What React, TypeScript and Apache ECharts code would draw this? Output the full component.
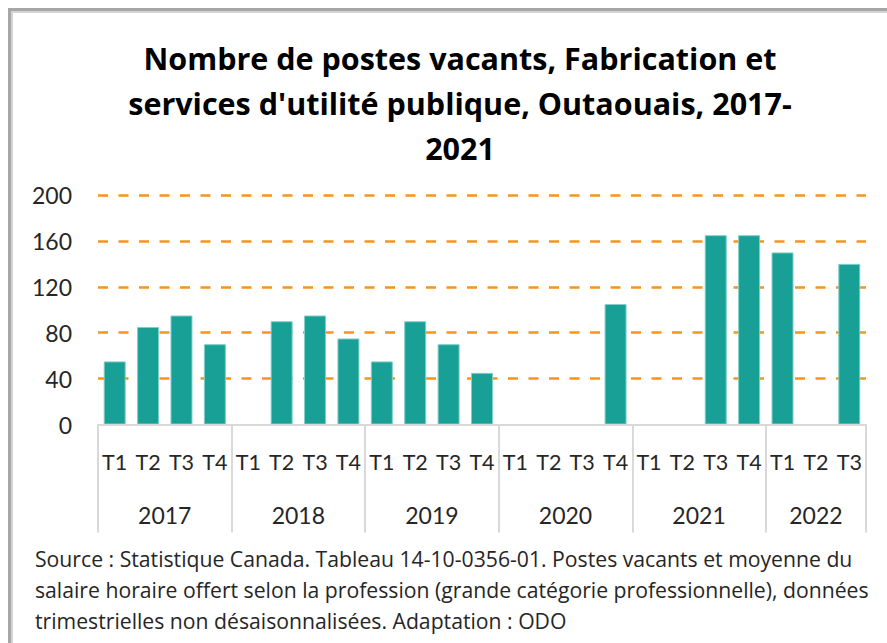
import React, { useEffect, useRef } from "react";
import * as echarts from "echarts";

const quarters = [
  "T1", "T2", "T3", "T4",
  "T1", "T2", "T3", "T4",
  "T1", "T2", "T3", "T4",
  "T1", "T2", "T3", "T4",
  "T1", "T2", "T3", "T4",
  "T1", "T2", "T3",
];
const values: (number | null)[] = [
  55, 85, 95, 70,
  null, 90, 95, 75,
  55, 90, 70, 45,
  null, null, null, 105,
  null, null, 165, 165,
  150, null, 140,
];
const years = ["2017", "2018", "2019", "2020", "2021", "2022"];
const yearCenters = [2, 6, 10, 14, 18, 21.5];
const yearBounds = [0, 4, 8, 12, 16, 20, 23];
const yTicks = [0, 40, 80, 120, 160, 200];

const titleText =
  "Nombre de postes vacants, Fabrication et\nservices d'utilité publique, Outaouais, 2017-\n2021";
const sourceText =
  "Source : Statistique Canada. Tableau 14-10-0356-01. Postes vacants et moyenne du\nsalaire horaire offert selon la profession (grande catégorie professionnelle), données\ntrimestrielles non désaisonnalisées. Adaptation : ODO";

const AXIS_FONT = "Lato";
const TEXT_FONT = "Open Sans";

export default function App() {
  const ref = useRef<HTMLDivElement>(null);
  useEffect(() => {
    if (!ref.current) return;
    const chart = echarts.init(ref.current, null, { renderer: "svg" });
    chart.setOption({
      animation: false,
      backgroundColor: "#ffffff",
      textStyle: { fontFamily: AXIS_FONT },
      title: {
        text: titleText,
        left: 455,
        textAlign: "center",
        top: 30,
        textStyle: {
          fontFamily: TEXT_FONT,
          fontSize: 30.5,
          fontWeight: "bold",
          color: "#000000",
          lineHeight: 45,
        },
      },
      grid: { left: 98, right: 21, top: 195, bottom: 218.5 },
      xAxis: [
        {
          type: "category",
          data: quarters,
          position: "bottom",
          axisLine: { lineStyle: { color: "#d9d9d9", width: 2 } },
          axisTick: { show: false },
          axisLabel: {
            interval: 0,
            margin: 26,
            fontFamily: AXIS_FONT,
            fontSize: 21.5,
            color: "#262626",
          },
          z: 5,
        },
        {
          type: "value",
          min: 0,
          max: 23,
          position: "bottom",
          offset: 108,
          axisLine: { show: false },
          splitLine: { show: false },
          axisTick: {
            show: true,
            inside: true,
            length: 108,
            customValues: yearBounds,
            lineStyle: { color: "#d9d9d9", width: 2 },
          },
          axisLabel: { show: false },
        },
        {
          type: "value",
          min: 0,
          max: 23,
          position: "bottom",
          offset: 67,
          axisLine: { show: false },
          splitLine: { show: false },
          axisTick: { show: false },
          axisLabel: {
            show: true,
            customValues: yearCenters,
            margin: 12,
            fontFamily: AXIS_FONT,
            fontSize: 23,
            color: "#262626",
            formatter: (v: number) => {
              const i = yearCenters.indexOf(v);
              return i >= 0 ? years[i] : "";
            },
          },
        },
      ],
      yAxis: {
        type: "value",
        min: 0,
        max: 200,
        interval: 40,
        axisLine: { show: false },
        axisTick: { show: false },
        axisLabel: {
          margin: 26,
          fontFamily: AXIS_FONT,
          fontSize: 23,
          color: "#262626",
          customValues: yTicks,
        },
        splitLine: {
          showMinLine: false,
          lineStyle: { color: "#f7941d", width: 2.5, type: [10, 10.5] },
        },
      },
      series: [
        {
          type: "bar",
          data: values,
          xAxisIndex: 0,
          barWidth: 22,
          itemStyle: {
            color: "#18a096",
            borderColor: "#7fd0c9",
            borderWidth: 1,
          },
        },
      ],
      graphic: [
        {
          type: "text",
          left: 35,
          top: 543,
          style: {
            text: sourceText,
            fontFamily: TEXT_FONT,
            fontSize: 21.2,
            lineHeight: 31,
            fill: "#262626",
          },
        },
        {
          type: "rect",
          shape: { x: 8, y: 8, width: 879, height: 3 },
          style: { fill: "#a6a6a6" },
        },
        {
          type: "rect",
          shape: { x: 8, y: 11, width: 879, height: 2 },
          style: { fill: "#d4d4d4" },
        },
        {
          type: "rect",
          shape: { x: 8, y: 8, width: 3, height: 635 },
          style: { fill: "#a6a6a6" },
        },
        {
          type: "rect",
          shape: { x: 11, y: 11, width: 2, height: 632 },
          style: { fill: "#d4d4d4" },
        },
      ],
    });
    return () => chart.dispose();
  }, []);
  return (
    <div
      ref={ref}
      style={{ position: "absolute", left: 0, top: 0, width: 887, height: 643 }}
    />
  );
}
